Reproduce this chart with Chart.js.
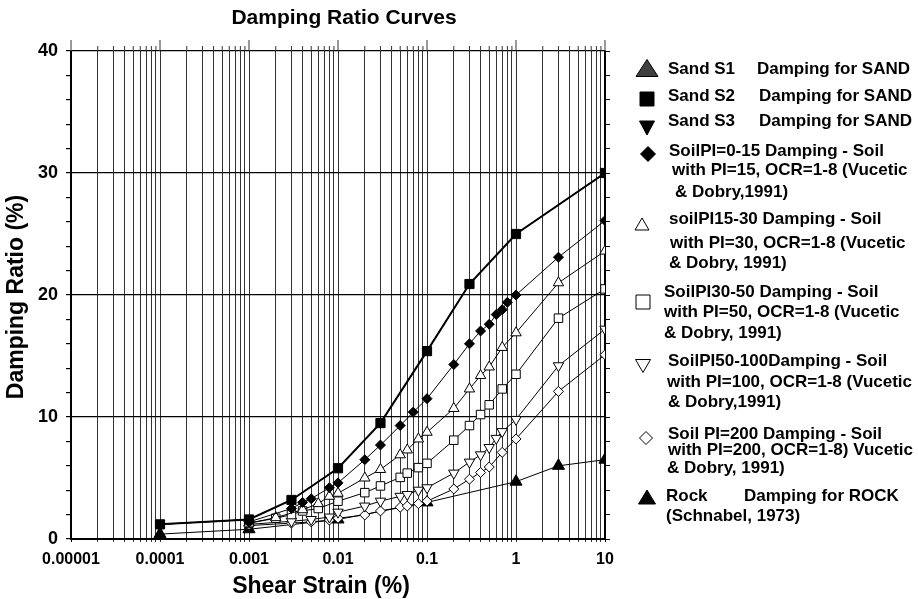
<!DOCTYPE html>
<html>
<head>
<meta charset="utf-8">
<title>Damping Ratio Curves</title>
<script src="https://cdn.jsdelivr.net/npm/chart.js@4.4.1/dist/chart.umd.min.js"></script>
<style>
  html, body { margin: 0; padding: 0; background: #fff; }
  #wrap { width: 918px; height: 599px; }
</style>
</head>
<body>
<div id="wrap"><canvas id="dampingChart" width="918" height="599"></canvas></div>
<script>
// shear strain (%) and damping ratio (%) for each curve
var sandStrain = [0.0001, 0.001, 0.003, 0.01, 0.03, 0.1, 0.3, 1, 10];
var sandS1Damping = [1.2, 1.6, 3.2, 5.8, 9.5, 15.4, 20.9, 25.0, 30.0];
var sandS2Damping = [1.2, 1.6, 3.2, 5.8, 9.5, 15.4, 20.9, 25.0, 30.0];
var sandS3Damping = [1.2, 1.6, 3.2, 5.8, 9.5, 15.4, 20.9, 25.0, 30.0];

var pi15Strain = [0.001, 0.003, 0.004, 0.005, 0.008, 0.01, 0.02, 0.03, 0.05, 0.07, 0.1, 0.2, 0.3, 0.4, 0.5, 0.6, 0.7, 0.8, 1, 3, 10];
var pi15Damping = [1.4, 2.5, 3.0, 3.3, 4.2, 4.6, 6.5, 7.7, 9.3, 10.4, 11.5, 14.3, 16.0, 17.05, 17.6, 18.4, 18.8, 19.4, 20.0, 23.1, 26.1];

var pi30Strain = [0.001, 0.002, 0.004, 0.006, 0.008, 0.01, 0.02, 0.03, 0.05, 0.06, 0.08, 0.1, 0.2, 0.3, 0.4, 0.5, 0.7, 1, 3, 10];
var pi30Damping = [1.3, 1.75, 2.4, 2.9, 3.5, 3.75, 5.0, 5.7, 6.9, 7.3, 8.2, 8.75, 10.7, 12.3, 13.4, 14.1, 15.7, 16.9, 21.0, 23.6];

var pi50Strain = [0.001, 0.002, 0.003, 0.004, 0.006, 0.01, 0.02, 0.03, 0.05, 0.06, 0.08, 0.1, 0.2, 0.3, 0.4, 0.5, 0.7, 1, 3, 10];
var pi50Damping = [1.3, 1.7, 2.0, 2.3, 2.5, 3.1, 3.8, 4.35, 5.05, 5.4, 5.85, 6.2, 8.1, 9.3, 10.2, 11.0, 12.3, 13.5, 18.1, 20.5];

var pi100Strain = [0.001, 0.003, 0.005, 0.008, 0.01, 0.02, 0.03, 0.05, 0.06, 0.08, 0.1, 0.2, 0.3, 0.4, 0.5, 0.6, 0.7, 1, 3, 10];
var pi100Damping = [1.2, 1.45, 1.6, 1.8, 2.2, 2.7, 3.1, 3.5, 3.65, 4.0, 4.2, 5.4, 6.3, 6.9, 7.5, 8.25, 8.8, 9.8, 14.2, 17.2];

var pi200Strain = [0.001, 0.003, 0.005, 0.008, 0.01, 0.02, 0.03, 0.05, 0.06, 0.08, 0.1, 0.2, 0.3, 0.4, 0.5, 0.7, 1, 3, 10];
var pi200Damping = [1.1, 1.3, 1.4, 1.55, 1.7, 1.97, 2.3, 2.6, 2.7, 2.9, 3.1, 4.1, 4.9, 5.45, 5.9, 7.1, 8.2, 12.1, 15.1];

var rockStrain = [0.0001, 0.001, 0.01, 0.1, 1, 3, 10];
var rockDamping = [0.4, 0.8, 1.6, 3.0, 4.7, 6.0, 6.5];

// axis ticks
var xDecades = [0.00001, 0.0001, 0.001, 0.01, 0.1, 1, 10];
var xTickLabels = ['0.00001', '0.0001', '0.001', '0.01', '0.1', '1', '10'];
var yTickLabels = ['0', '10', '20', '30', '40'];

// legend text ("\t" splits a row into two columns, "\n" starts a new line)
var seriesLabels = [
  'Sand S1\tDamping for SAND',
  'Sand S2\tDamping for SAND',
  'Sand S3\tDamping for SAND',
  'SoilPI=0-15 Damping - Soil\nwith PI=15, OCR=1-8 (Vucetic\n& Dobry,1991)',
  'soilPI15-30 Damping - Soil\nwith PI=30, OCR=1-8 (Vucetic\n& Dobry, 1991)',
  'SoilPI30-50 Damping - Soil\nwith PI=50, OCR=1-8 (Vucetic\n& Dobry, 1991)',
  'SoilPI50-100Damping - Soil\nwith PI=100, OCR=1-8 (Vucetic\n& Dobry,1991)',
  'Soil PI=200 Damping - Soil\nwith PI=200, OCR=1-8) Vucetic\n& Dobry, 1991)',
  'Rock\tDamping for ROCK\n(Schnabel, 1973)'
];

var FONT = "'Liberation Sans', Arial, Helvetica, sans-serif";

function toPoints(xs, ys) {
  return xs.map(function (x, i) { return { x: x, y: ys[i] }; });
}

function series(i, xs, ys, opts) {
  var ds = {
    label: seriesLabels[i],
    data: toPoints(xs, ys),
    borderColor: '#000',
    borderWidth: 1,
    pointBorderColor: '#000',
    pointBorderWidth: 1,
    pointRadius: 5,
    tension: 0,
    order: 1
  };
  for (var k in opts) ds[k] = opts[k];
  return ds;
}

var datasets = [
  series(0, sandStrain, sandS1Damping, { pointStyle: 'triangle', pointBackgroundColor: '#404040', pointRadius: 4, order: 3 }),
  series(1, sandStrain, sandS2Damping, { pointStyle: 'rect', pointBackgroundColor: '#000', pointRadius: 6.5, borderWidth: 2 }),
  series(2, sandStrain, sandS3Damping, { pointStyle: 'triangle', pointRotation: 180, pointBackgroundColor: '#000', pointRadius: 4, order: 3 }),
  series(3, pi15Strain, pi15Damping, { pointStyle: 'rectRot', pointBackgroundColor: '#000', pointRadius: 5 }),
  series(4, pi30Strain, pi30Damping, { pointStyle: 'triangle', pointBackgroundColor: '#fff', pointRadius: 6 }),
  series(5, pi50Strain, pi50Damping, { pointStyle: 'rect', pointBackgroundColor: '#fff', pointRadius: 6 }),
  series(6, pi100Strain, pi100Damping, { pointStyle: 'triangle', pointRotation: 180, pointBackgroundColor: '#fff', pointRadius: 6 }),
  series(7, pi200Strain, pi200Damping, { pointStyle: 'rectRot', pointBackgroundColor: '#fff', pointRadius: 5 }),
  series(8, rockStrain, rockDamping, { pointStyle: 'triangle', pointBackgroundColor: '#000', pointRadius: 7 })
];

// legend layout: marker shape/size/centre, text x per line, text y per line, second column x
var legendLayout = [
  { shape: 'up', w: 22, h: 17, fill: '#404040', mx: 647, my: 68, tx: [668], ty: [69], tab: 757 },
  { shape: 'square', w: 14, h: 14, fill: '#000', mx: 647, my: 99, tx: [668], ty: [96], tab: 759 },
  { shape: 'down', w: 15, h: 14, fill: '#000', mx: 647, my: 128, tx: [668], ty: [121], tab: 759 },
  { shape: 'diamond', w: 15, h: 15, fill: '#000', mx: 648, my: 154, tx: [669, 672, 675], ty: [151, 170, 192] },
  { shape: 'up', w: 14, h: 12, fill: '#fff', mx: 642, my: 224, tx: [669, 670, 669], ty: [219, 243, 263] },
  { shape: 'square', w: 14, h: 14, fill: '#fff', mx: 643, my: 302, tx: [664, 664, 664], ty: [292, 312, 333] },
  { shape: 'down', w: 15, h: 13, fill: '#fff', mx: 643, my: 366, tx: [668, 667, 668], ty: [361, 382, 402] },
  { shape: 'diamond', w: 13, h: 13, fill: '#fff', mx: 646, my: 438, tx: [668, 668, 667], ty: [434, 450, 468] },
  { shape: 'up', w: 17, h: 14, fill: '#000', mx: 647, my: 497, tx: [666, 666], ty: [496, 516], tab: 744 }
];

function drawMarker(ctx, m) {
  var x = m.mx, y = m.my, w = m.w, h = m.h;
  ctx.beginPath();
  if (m.shape === 'up') {
    ctx.moveTo(x, y - h / 2); ctx.lineTo(x + w / 2, y + h / 2); ctx.lineTo(x - w / 2, y + h / 2);
  } else if (m.shape === 'down') {
    ctx.moveTo(x, y + h / 2); ctx.lineTo(x + w / 2, y - h / 2); ctx.lineTo(x - w / 2, y - h / 2);
  } else if (m.shape === 'diamond') {
    ctx.moveTo(x, y - h / 2); ctx.lineTo(x + w / 2, y); ctx.lineTo(x, y + h / 2); ctx.lineTo(x - w / 2, y);
  } else {
    ctx.rect(x - w / 2, y - h / 2, w, h);
  }
  ctx.closePath();
  ctx.fillStyle = m.fill;
  ctx.fill();
  ctx.strokeStyle = '#000';
  ctx.lineWidth = 1;
  ctx.stroke();
}

var decorPlugin = {
  id: 'decor',
  afterDraw: function (chart) {
    var ctx = chart.ctx, area = chart.chartArea, xs = chart.scales.x;
    ctx.save();

    // vertical grid lines poke out above the frame, decades a bit further
    ctx.lineWidth = 1;
    xs.ticks.forEach(function (t) {
      var px = xs.getPixelForValue(t.value);
      ctx.strokeStyle = '#333';
      ctx.beginPath();
      ctx.moveTo(px, area.top);
      ctx.lineTo(px, area.top - (t.major ? 11 : 5));
      ctx.stroke();
    });

    ctx.fillStyle = '#000';
    ctx.textBaseline = 'middle';

    // chart title and axis titles
    ctx.textAlign = 'center';
    ctx.font = 'bold 21px ' + FONT;
    ctx.fillText('Damping Ratio Curves', 344, 18);
    ctx.font = 'bold 23px ' + FONT;
    ctx.fillText('Shear Strain (%)', 321, 587);
    ctx.save();
    ctx.translate(17, 297);
    ctx.rotate(-Math.PI / 2);
    ctx.fillText('Damping Ratio (%)', 0, 0);
    ctx.restore();

    // legend
    ctx.textAlign = 'left';
    ctx.font = 'bold 17px ' + FONT;
    legendLayout.forEach(function (m, i) {
      drawMarker(ctx, m);
      ctx.fillStyle = '#000';
      var lines = seriesLabels[i].split('\n');
      lines.forEach(function (line, j) {
        var parts = line.split('\t');
        ctx.fillText(parts[0], m.tx[j], m.ty[j]);
        if (parts[1]) ctx.fillText(parts[1], m.tab, m.ty[j]);
      });
    });

    ctx.restore();
  }
};

new Chart(document.getElementById('dampingChart'), {
  type: 'line',
  data: { datasets: datasets },
  options: {
    responsive: false,
    animation: false,
    layout: { padding: { top: 51, left: 0, right: 0, bottom: 0 } },
    plugins: { legend: { display: false }, title: { display: false }, tooltip: { enabled: false } },
    scales: {
      x: {
        type: 'logarithmic',
        position: 'bottom',
        min: 0.00001,
        max: 10,
        afterBuildTicks: function (scale) {
          var ticks = [];
          xDecades.forEach(function (d, i) {
            var steps = i < xDecades.length - 1 ? 9 : 1;
            for (var m = 1; m <= steps; m++) ticks.push({ value: +(m * d).toPrecision(6), major: m === 1 });
          });
          scale.ticks = ticks;
        },
        afterFit: function (scale) { scale.height = 60; },
        ticks: {
          autoSkip: false,
          maxRotation: 0,
          padding: 8,
          color: '#000',
          font: { family: FONT, size: 16, weight: 'bold' },
          callback: function (value) {
            var idx = xDecades.findIndex(function (d) { return Math.abs(d - value) < d * 1e-6; });
            return idx >= 0 ? xTickLabels[idx] : '';
          }
        },
        grid: {
          color: function (c) {
            var v = c.tick && c.tick.value;
            return (v === 0.00001 || v === 10) ? '#000' : '#333';
          },
          lineWidth: 1,
          tickLength: 3
        },
        border: { display: true, color: '#000', width: 2 }
      },
      y: {
        type: 'linear',
        position: 'left',
        min: 0,
        max: 40,
        afterFit: function (scale) { scale.width = 71; },
        ticks: {
          stepSize: 2,
          autoSkip: false,
          padding: 8,
          color: '#000',
          font: { family: FONT, size: 18, weight: 'bold' },
          callback: function (value) {
            var idx = yTickLabels.indexOf(String(value));
            return idx >= 0 ? yTickLabels[idx] : '';
          }
        },
        grid: {
          color: function (c) {
            return c.tick && c.tick.value % 10 === 0 ? '#000' : 'rgba(0,0,0,0)';
          },
          tickColor: '#000',
          lineWidth: 1.2,
          tickLength: 5
        },
        border: { display: true, color: '#000', width: 1.5 }
      },
      y2: {
        type: 'linear',
        position: 'right',
        min: 0,
        max: 40,
        afterFit: function (scale) { scale.width = 313; },
        ticks: { stepSize: 2, autoSkip: false, callback: function () { return ''; } },
        grid: { drawOnChartArea: false, tickColor: '#000', tickLength: 5 },
        border: { display: true, color: '#000', width: 1.5 }
      }
    }
  },
  plugins: [decorPlugin]
});
</script>
</body>
</html>
